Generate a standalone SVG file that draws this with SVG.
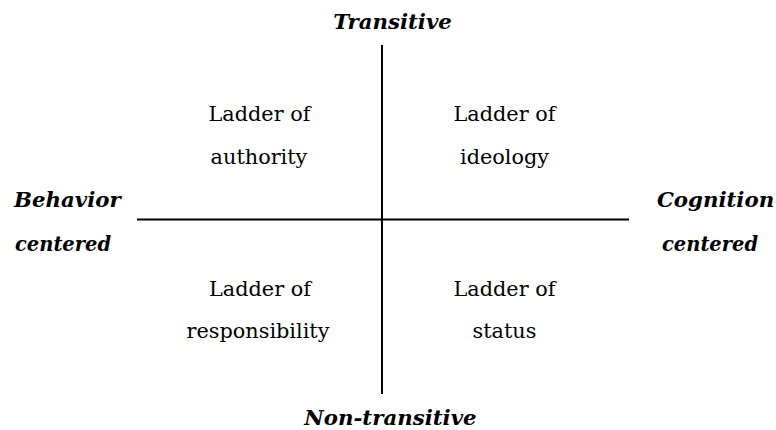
<svg xmlns="http://www.w3.org/2000/svg" width="776" height="430" viewBox="0 0 776 430">
  <style>
    .axis { stroke: #000; stroke-width: 2; fill: none; }
    .pole { font-family: "DejaVu Serif", "Liberation Serif", serif; font-style: italic; font-weight: bold; font-size: 21.3px; fill: #000; }
    .cell { font-family: "DejaVu Serif", "Liberation Serif", serif; font-size: 20.8px; fill: #000; text-anchor: middle; }
  </style>
  <rect width="776" height="430" fill="#fff"/>
  <g id="axes">
    <line class="axis" x1="382" y1="45" x2="382" y2="394"/>
    <line class="axis" x1="137" y1="219.5" x2="629" y2="219.5"/>
  </g>
  <g id="pole-top"><text class="pole" x="392.5" y="29" text-anchor="middle">Transitive</text></g>
  <g id="pole-bottom"><text class="pole" x="390.5" y="425" text-anchor="middle">Non-transitive</text></g>
  <g id="pole-left">
    <text class="pole" x="14" y="207">Behavior</text>
    <text class="pole" x="15" y="251" textLength="96" lengthAdjust="spacingAndGlyphs">centered</text>
  </g>
  <g id="pole-right">
    <text class="pole" x="715.5" y="207" text-anchor="middle">Cognition</text>
    <text class="pole" x="662" y="251" textLength="96" lengthAdjust="spacingAndGlyphs">centered</text>
  </g>
  <g id="authority">
    <text class="cell" x="259.5" y="121">Ladder of</text>
    <text class="cell" x="259" y="164">authority</text>
  </g>
  <g id="ideology">
    <text class="cell" x="504.5" y="121">Ladder of</text>
    <text class="cell" x="504.5" y="164">ideology</text>
  </g>
  <g id="responsibility">
    <text class="cell" x="260" y="296">Ladder of</text>
    <text class="cell" x="258" y="338">responsibility</text>
  </g>
  <g id="status">
    <text class="cell" x="504.5" y="296">Ladder of</text>
    <text class="cell" x="504.5" y="338">status</text>
  </g>
</svg>
